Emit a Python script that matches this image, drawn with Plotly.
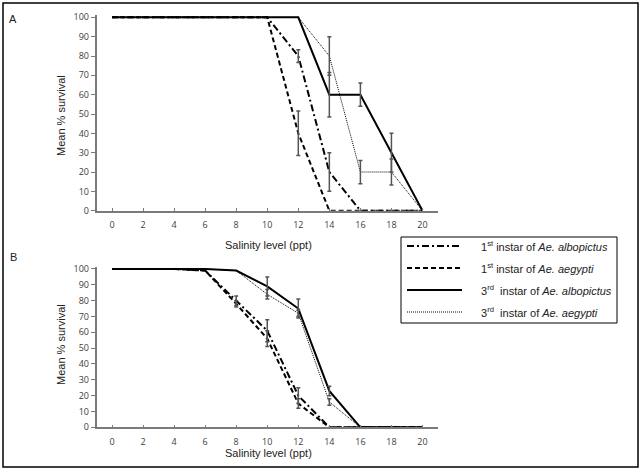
import plotly.graph_objects as go

W, H = 643, 471

# ---------------- data ----------------
salinity = [0, 2, 4, 6, 8, 10, 12, 14, 16, 18, 20]
x_ticks = [0, 2, 4, 6, 8, 10, 12, 14, 16, 18, 20]
y_ticks = [0, 10, 20, 30, 40, 50, 60, 70, 80, 90, 100]

series_names = [
    "1<sup>st</sup> instar of <i>Ae. albopictus</i>",
    "1<sup>st</sup> instar of <i>Ae. aegypti</i>",
    "3<sup>rd</sup>&nbsp; instar of <i>Ae. albopictus</i>",
    "3<sup>rd</sup>&nbsp; instar of <i>Ae. aegypti</i>",
]

# Panel A
a_1st_albo = [100, 100, 100, 100, 100, 100, 80, 20, 0, 0, 0]
a_1st_aeg = [100, 100, 100, 100, 100, 100, 40, 0, 0, 0, 0]
a_3rd_albo = [100, 100, 100, 100, 100, 100, 100, 60, 60, 30, 0]
a_3rd_aeg = [100, 100, 100, 100, 100, 100, 100, 80, 20, 20, 0]
a_1st_albo_err = [None, None, None, None, None, None, 3.3, 10, None, None, None]
a_1st_aeg_err = [None, None, None, None, None, None, 11.5, None, None, None, None]
a_3rd_albo_err = [None, None, None, None, None, None, None, 11.5, 6, 10, None]
a_3rd_aeg_err = [None, None, None, None, None, None, None, 10, 6, 6.7, None]

# Panel B
b_1st_albo = [100, 100, 100, 99, 80, 61, 20, 0, 0, 0, 0]
b_1st_aeg = [100, 100, 100, 99, 78, 56, 15, 0, 0, 0, 0]
b_3rd_albo = [100, 100, 100, 100, 99, 89, 75, 23, 0, 0, 0]
b_3rd_aeg = [100, 100, 100, 100, 99, 84, 72, 16, 0, 0, 0]
b_1st_albo_err = [None, None, None, None, 3, 7, 5, None, None, None, None]
b_1st_aeg_err = [None, None, None, None, 2, 5, 3, None, None, None, None]
b_3rd_albo_err = [None, None, None, None, None, 6, 6, 3, None, None, None]
b_3rd_aeg_err = [None, None, None, None, None, 3, 2, 2, None, None, None]

# ---------------- styles ----------------
styles = [
    dict(color="black", width=2, dash="7px,3px,2px,3px"),
    dict(color="black", width=2, dash="5px,3px"),
    dict(color="black", width=2),
    dict(color="black", width=1, dash="1px,1px"),
]
ERR_COLOR = "#555555"
AXIS_COLOR = "#7a7a7a"


def px(x):
    return x / W


def py(y):
    return 1 - y / H


fig = go.Figure()

panels = [
    ("x", "y", [a_1st_albo, a_1st_aeg, a_3rd_albo, a_3rd_aeg],
     [a_1st_albo_err, a_1st_aeg_err, a_3rd_albo_err, a_3rd_aeg_err]),
    ("x2", "y2", [b_1st_albo, b_1st_aeg, b_3rd_albo, b_3rd_aeg],
     [b_1st_albo_err, b_1st_aeg_err, b_3rd_albo_err, b_3rd_aeg_err]),
]

for xa, ya, vals, errs in panels:
    for i in range(4):
        fig.add_trace(go.Scatter(
            x=salinity, y=vals[i], mode="lines", line=styles[i],
            xaxis=xa, yaxis=ya, showlegend=False, hoverinfo="skip"))
    for i in range(4):
        ex = [s for s, e in zip(salinity, errs[i]) if e is not None]
        ey = [v for v, e in zip(vals[i], errs[i]) if e is not None]
        ee = [e for e in errs[i] if e is not None]
        fig.add_trace(go.Scatter(
            x=ex, y=ey, mode="markers",
            marker=dict(size=2, color="rgba(0,0,0,0)"),
            error_y=dict(type="data", array=ee, visible=True,
                         color=ERR_COLOR, thickness=1.5, width=2),
            xaxis=xa, yaxis=ya, showlegend=False, hoverinfo="skip"))

tickfont = dict(family="Open Sans", size=9, color="#404040")
xcommon = dict(range=[-1, 21], tickvals=x_ticks, ticks="inside", ticklen=3,
               tickcolor=AXIS_COLOR, showline=True, linecolor=AXIS_COLOR,
               linewidth=1.5, showgrid=False, zeroline=False, tickfont=tickfont,
               ticklabelstandoff=5, automargin=False)
ycommon = dict(range=[0, 101], tickvals=y_ticks, ticks="outside", ticklen=4,
               tickcolor=AXIS_COLOR, showline=True, linecolor=AXIS_COLOR,
               linewidth=1.5, showgrid=False, zeroline=False, tickfont=tickfont,
               automargin=False)

xdom = [px(96.5), px(438)]
fig.update_layout(
    xaxis=dict(domain=xdom, anchor="y", **xcommon),
    yaxis=dict(domain=[py(210.7), py(15.4)], anchor="x", **ycommon),
    xaxis2=dict(domain=xdom, anchor="y2", **xcommon),
    yaxis2=dict(domain=[py(427.3), py(267.4)], anchor="x2", **ycommon),
)

title_font = dict(family="Liberation Sans", size=11, color="#222222")
annotations = [
    dict(text="A", x=px(13), y=py(19), font=title_font),
    dict(text="B", x=px(13), y=py(257), font=title_font),
    dict(text="Salinity level (ppt)", x=px(268), y=py(245), font=title_font),
    dict(text="Salinity level (ppt)", x=px(268), y=py(453), font=title_font),
    dict(text="Mean % survival", x=px(61), y=py(116), textangle=-90, font=title_font),
    dict(text="Mean % survival", x=px(61), y=py(345), textangle=-90, font=title_font),
]
for a in annotations:
    a.update(xref="paper", yref="paper", showarrow=False,
             xanchor="center", yanchor="middle")

shapes = [
    dict(type="rect", xref="paper", yref="paper", x0=px(3), x1=px(638),
         y0=py(467), y1=py(3), line=dict(color="black", width=1.5)),
    dict(type="rect", xref="paper", yref="paper", x0=px(401), x1=px(617),
         y0=py(323), y1=py(237), line=dict(color="black", width=1),
         fillcolor="white"),
]

legend_rows = [246, 268, 290, 312]
for i, ry in enumerate(legend_rows):
    shapes.append(dict(type="line", xref="paper", yref="paper",
                       x0=px(407), x1=px(462), y0=py(ry), y1=py(ry),
                       line=styles[i]))
    annotations.append(dict(text=series_names[i], xref="paper", yref="paper",
                            x=px(479), y=py(ry), xanchor="left", yanchor="middle",
                            showarrow=False,
                            font=dict(family="Liberation Sans", size=11,
                                      color="#222222")))

fig.update_layout(
    width=W, height=H,
    margin=dict(l=0, r=0, t=0, b=0),
    paper_bgcolor="white", plot_bgcolor="white",
    shapes=shapes, annotations=annotations,
    showlegend=False,
)

fig.write_html("out.html",
               config={"displayModeBar": False},
               post_script="document.body.style.margin='0';"
                           "document.body.style.padding='0';")
